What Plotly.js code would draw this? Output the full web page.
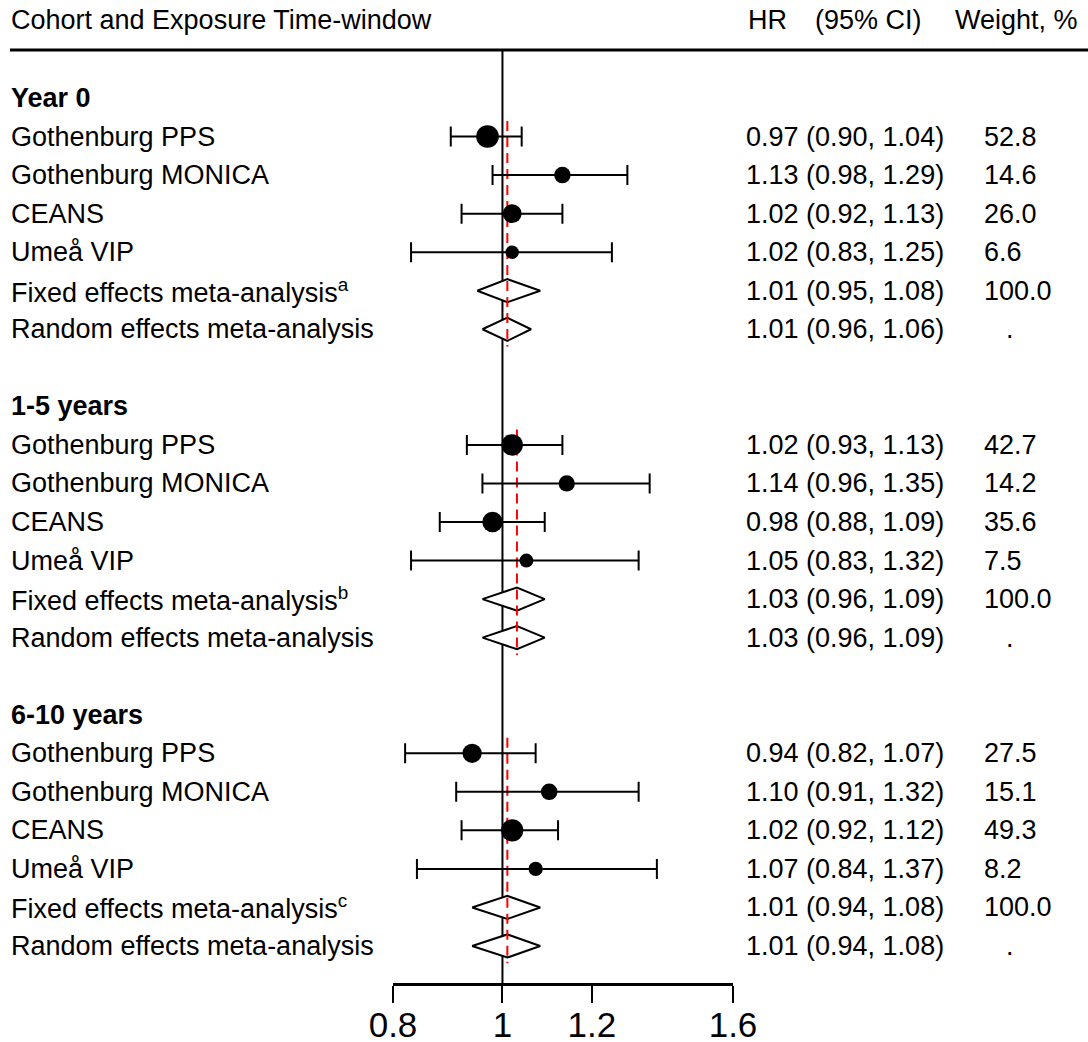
<!DOCTYPE html>
<html>
<head>
<meta charset="utf-8">
<script src="https://cdn.plot.ly/plotly-3.0.1.min.js"></script>
<style>html,body{margin:0;padding:0;background:#fff;}#chart{width:1088px;height:1042px;}</style>
</head>
<body>
<div id="chart"></div>
<script>
// ---------- data ----------
const groupNames = ['Year 0', '1-5 years', '6-10 years'];
const studyNames = ['Gothenburg PPS', 'Gothenburg MONICA', 'CEANS', 'Umeå VIP'];
const fixedLabels = ['Fixed effects meta-analysis<sup>a</sup>', 'Fixed effects meta-analysis<sup>b</sup>', 'Fixed effects meta-analysis<sup>c</sup>'];
const randomLabel = 'Random effects meta-analysis';

const hrYear0 = [0.97, 1.13, 1.02, 1.02];
const loYear0 = [0.90, 0.98, 0.92, 0.83];
const hiYear0 = [1.04, 1.29, 1.13, 1.25];
const wYear0  = [52.8, 14.6, 26.0, 6.6];
const fixedYear0  = [1.01, 0.95, 1.08];
const randomYear0 = [1.01, 0.96, 1.06];

const hr1to5 = [1.02, 1.14, 0.98, 1.05];
const lo1to5 = [0.93, 0.96, 0.88, 0.83];
const hi1to5 = [1.13, 1.35, 1.09, 1.32];
const w1to5  = [42.7, 14.2, 35.6, 7.5];
const fixed1to5  = [1.03, 0.96, 1.09];
const random1to5 = [1.03, 0.96, 1.09];

const hr6to10 = [0.94, 1.10, 1.02, 1.07];
const lo6to10 = [0.82, 0.91, 0.92, 0.84];
const hi6to10 = [1.07, 1.32, 1.12, 1.37];
const w6to10  = [27.5, 15.1, 49.3, 8.2];
const fixed6to10  = [1.01, 0.94, 1.08];
const random6to10 = [1.01, 0.94, 1.08];

const fixedWeight = '100.0';
const randomWeight = '.';

const tickVals = [0.8, 1, 1.2, 1.6];
const tickText = ['0.8', '1', '1.2', '1.6'];
const headerLabels = ['Cohort and Exposure Time-window', 'HR', '(95% CI)', 'Weight, %'];

// ---------- build ----------
const groups = [
  {hr: hrYear0, lo: loYear0, hi: hiYear0, w: wYear0, fixed: fixedYear0, random: randomYear0},
  {hr: hr1to5, lo: lo1to5, hi: hi1to5, w: w1to5, fixed: fixed1to5, random: random1to5},
  {hr: hr6to10, lo: lo6to10, hi: hi6to10, w: w6to10, fixed: fixed6to10, random: random6to10}
];

const W = 1088, H = 1042;
const FONT = 'Liberation Sans, Arial, Helvetica, sans-serif';
const fs = 27;
const px = v => v / W;
const fmt = v => v.toFixed(2);
const ciText = (e, l, h) => fmt(e) + ' (' + fmt(l) + ', ' + fmt(h) + ')';

const traces = [];
const annotations = [];
const shapes = [];

function txt(xPix, y, text, yref) {
  annotations.push({xref: 'paper', yref: yref || 'y', x: px(xPix), y: y, text: text,
    xanchor: 'left', yanchor: 'middle', showarrow: false, borderpad: 0,
    font: {family: FONT, size: fs, color: '#000'}});
}

const ptX = [], ptY = [], ptS = [], errP = [], errM = [];

groups.forEach((g, gi) => {
  const base = gi * 8;
  txt(10, base, '<b>' + groupNames[gi] + '</b>');
  g.hr.forEach((v, i) => {
    const r = base + 1 + i;
    ptX.push(v); ptY.push(r); ptS.push(8.4 * Math.pow(g.w[i], 0.25));
    errP.push(g.hi[i] - v); errM.push(v - g.lo[i]);
    txt(10, r, studyNames[i]);
    txt(745, r, ciText(v, g.lo[i], g.hi[i]));
    txt(983, r, g.w[i].toFixed(1));
  });
  const summaries = [[g.fixed, fixedLabels[gi], fixedWeight, 983], [g.random, randomLabel, randomWeight, 1005]];
  summaries.forEach((s, k) => {
    const r = base + 5 + k;
    const [e, l, h] = s[0];
    const dh = 0.3;
    traces.push({type: 'scatter', mode: 'lines', x: [l, e, h, e, l], y: [r, r - dh, r, r + dh, r],
      fill: 'toself', fillcolor: '#fff', line: {color: '#000', width: 2}, hoverinfo: 'skip', showlegend: false});
    txt(10, r, s[1]);
    txt(745, r, ciText(e, l, h));
    txt(s[3], r, s[2]);
  });
  // red dashed line at fixed estimate
  traces.push({type: 'scatter', mode: 'lines', x: [g.fixed[0], g.fixed[0]], y: [base + 0.6, base + 6.45],
    line: {color: '#ff0000', width: 2, dash: '10px,6px'}, hoverinfo: 'skip', showlegend: false});
});

// study points with CIs
traces.push({type: 'scatter', mode: 'markers', x: ptX, y: ptY,
  marker: {color: '#000', opacity: 1, size: ptS, line: {width: 0}},
  error_x: {type: 'data', symmetric: false, array: errP, arrayminus: errM, color: '#000', thickness: 2, width: 10},
  hoverinfo: 'skip', showlegend: false});

// header
const hdrY = (983 - 20) / 933;
[[10, headerLabels[0]], [747, headerLabels[1]], [814, headerLabels[2]], [954, headerLabels[3]]].forEach(h => txt(h[0], hdrY, h[1], 'paper'));

shapes.push({type: 'line', xref: 'paper', yref: 'paper', x0: px(10), x1: 1, y0: 1, y1: 1, line: {color: '#000', width: 3}});
shapes.push({type: 'line', xref: 'x', yref: 'paper', x0: 1, x1: 1, y0: 0, y1: 1, line: {color: '#000', width: 2}, layer: 'below'});

const layout = {
  width: W, height: H,
  margin: {l: 0, r: 0, t: 50, b: 59, pad: 0},
  paper_bgcolor: '#fff', plot_bgcolor: '#fff',
  showlegend: false,
  xaxis: {type: 'log', domain: [393 / W, 733 / W], range: [Math.log10(0.8), Math.log10(1.6)],
    showline: true, linecolor: '#000', linewidth: 2.5, ticks: 'outside', ticklen: 17, tickwidth: 2, tickcolor: '#000',
    tickvals: tickVals, ticktext: tickText, tickfont: {family: FONT, size: 35, color: '#000'},
    ticklabelstandoff: -8,
    showgrid: false, zeroline: false, fixedrange: true, automargin: false},
  yaxis: {visible: false, range: [22.96, -1.245], showgrid: false, zeroline: false, fixedrange: true},
  annotations: annotations,
  shapes: shapes,
  font: {family: FONT, color: '#000'}
};

Plotly.newPlot('chart', traces, layout, {displayModeBar: false, staticPlot: true});
</script>
</body>
</html>
